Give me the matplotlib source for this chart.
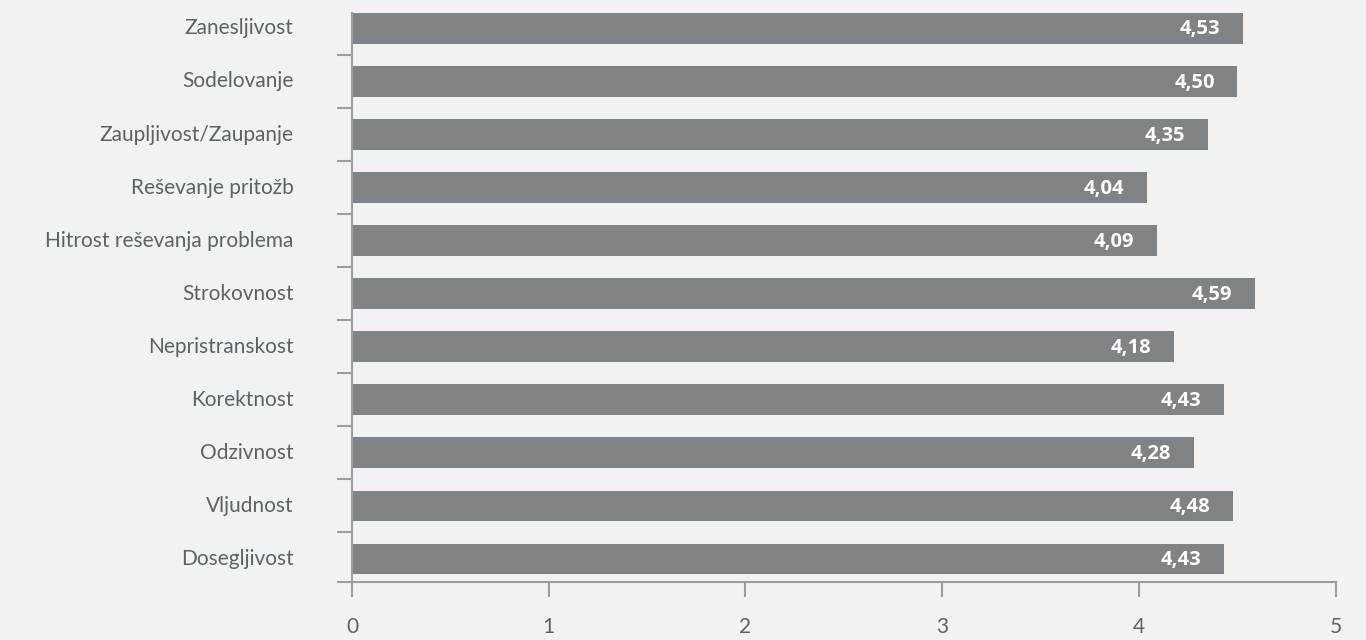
import matplotlib
matplotlib.use("Agg")
import matplotlib.pyplot as plt
import matplotlib.transforms as mtransforms
import numpy as np

categories = ["Zanesljivost", "Sodelovanje", "Zaupljivost/Zaupanje", "Reševanje pritožb",
              "Hitrost reševanja problema", "Strokovnost", "Nepristranskost", "Korektnost",
              "Odzivnost", "Vljudnost", "Dosegljivost"]
values = [4.53, 4.50, 4.35, 4.04, 4.09, 4.59, 4.18, 4.43, 4.28, 4.48, 4.43]
xticks = [0, 1, 2, 3, 4, 5]

bg = "#f2f2f2"
bar_c = "#7f8386"
spine_c = "#9a9ea1"
txt_c = "#5d6266"

fig = plt.figure(figsize=(13.66, 6.4), dpi=100, facecolor=bg)
ax = fig.add_axes([352/1366, 58/640, (1335.7-352)/1366, (582-13)/640])
ax.set_facecolor(bg)

y = np.arange(len(categories))
h = 0.58
ax.barh(y, values, height=h, color=bar_c, zorder=2)
for yi, v in zip(y, values):
    ax.text(v - 0.115, yi + 0.02, f"{v:.2f}".replace(".", ","), ha="right", va="center",
            color="white", fontsize=14.5, fontweight="bold", family="Open Sans", zorder=3)

bottom = 10.5 - 3.5/53.05
ax.set_ylim(bottom, -h/2)
ax.set_xlim(0, 5)

ax.set_yticks(y)
ax.set_yticklabels(categories, fontsize=15, color=txt_c, family="Lato")
ax.set_yticks(list(np.arange(0.5, 10.5, 1.0)) + [bottom], minor=True)
ax.tick_params(axis="y", which="major", length=0, pad=42)
ax.tick_params(axis="y", which="minor", length=10.5, width=1.5, color=spine_c)
shift = mtransforms.ScaledTranslation(0, 2/100, fig.dpi_scale_trans)
for lbl in ax.get_yticklabels():
    lbl.set_transform(lbl.get_transform() + shift)

ax.set_xticks(xticks)
ax.set_xticklabels([str(t) for t in xticks], fontsize=15, color=txt_c, family="Lato")
ax.tick_params(axis="x", length=11, width=1.5, color=spine_c, pad=14)

for s in ["top", "right"]:
    ax.spines[s].set_visible(False)
for s in ["left", "bottom"]:
    ax.spines[s].set_color(spine_c)
    ax.spines[s].set_linewidth(1.5)

fig.savefig("out.png", dpi=100, facecolor=bg)
